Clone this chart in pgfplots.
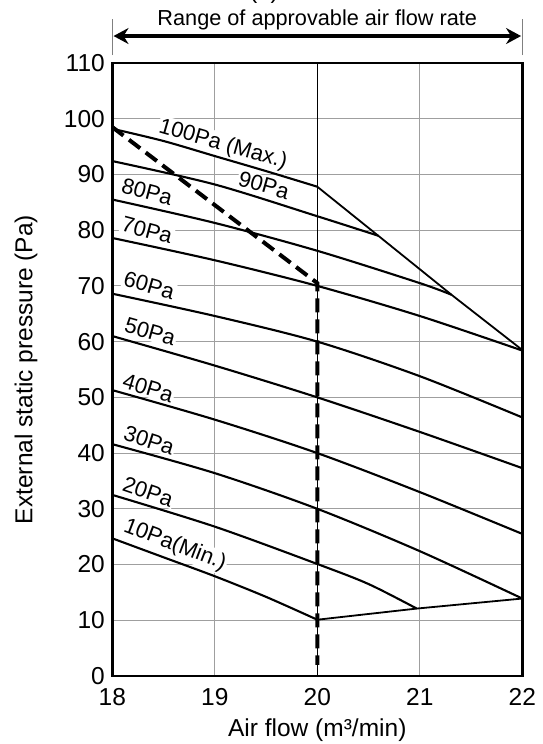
\documentclass[border=0pt]{standalone}
\usepackage{fontspec}
\setmainfont{Liberation Sans}
\usepackage{pgfplots}
\pgfplotsset{compat=1.18}
\usetikzlibrary{arrows.meta}
\tikzset{
  curve/.style={black, line width=2.1pt, smooth},
  lbl/.style={fill=white, inner sep=1.5pt, font=\fontsize{22}{22}\selectfont},
}

\begin{document}
\begin{tikzpicture}
\begin{axis}[
  scale only axis, width=410pt, height=613pt,
  xmin=18, xmax=22, ymin=0, ymax=110,
  xtick={18,19,20,21,22}, ytick={0,10,...,110},
  major tick length=0pt,
  grid=major,
  major grid style={line width=1pt, gray!75},
  axis line style={line width=2.6pt},
  clip=false,
  /pgf/number format/assume math mode=true,
  tick label style={font=\fontsize{24.5}{24.5}\selectfont},
  xticklabel style={yshift=-9pt},
  yticklabel style={xshift=-4pt},
  xlabel={Air flow (m³/min)},
  ylabel={External static pressure (Pa)},
  label style={font=\fontsize{24.5}{24.5}\selectfont},
  xlabel style={at={(axis description cs:0.5,-0.089)}, anchor=center},
  ylabel style={at={(axis description cs:-0.2105,0.5)}, anchor=center},
]
% darker grid line at 20
\addplot[black, line width=0.9pt, no marks] coordinates {(20,0) (20,110)};

% curve labels (white background interrupts grid)
\node[lbl, rotate=-16] at (axis cs:19.08,95.3) {100Pa (Max.)};
\node[lbl, rotate=-16] at (axis cs:19.48,88.1) {90Pa};
\node[lbl, rotate=-15] at (axis cs:18.34,86.9) {80Pa};
\node[lbl, rotate=-15] at (axis cs:18.34,80.0) {70Pa};
\node[lbl, rotate=-16] at (axis cs:18.36,70.1) {60Pa};
\node[lbl, rotate=-16] at (axis cs:18.37,61.8) {50Pa};
\node[lbl, rotate=-17] at (axis cs:18.35,51.7) {40Pa};
\node[lbl, rotate=-18] at (axis cs:18.36,42.3) {30Pa};
\node[lbl, rotate=-19] at (axis cs:18.35,33.1) {20Pa};
\node[lbl, rotate=-21] at (axis cs:18.61,23.5) {10Pa(Min.)};

% characteristic curves
\addplot[curve, no marks] coordinates {(18,98.2) (18.5,96.0) (19,93.3) (19.5,90.6) (20,87.8)};
\addplot[curve, no marks] coordinates {(18,92.4) (19,88.2) (20,82.5) (20.595,79.0)};
\addplot[curve, no marks] coordinates {(18,85.5) (19,81.3) (20,76.3) (21,70.5) (21.31,68.4)};
\addplot[curve, no marks] coordinates {(18,78.6) (19,74.6) (20,70.0) (21,64.6) (22,58.4)};
\addplot[curve, no marks] coordinates {(18,68.6) (19,64.6) (20,60.0) (21,53.8) (22,46.4)};
\addplot[curve, no marks] coordinates {(18,61.0) (19,55.7) (20,50.0) (21,43.8) (22,37.3)};
\addplot[curve, no marks] coordinates {(18,51.3) (19,46.0) (20,40.0) (21,33.0) (22,25.5)};
\addplot[curve, no marks] coordinates {(18,41.6) (19,36.4) (20,30.0) (21,22.4) (22,13.9)};
\addplot[curve, no marks] coordinates {(18,32.5) (19,26.8) (20,20.1) (20.5,16.5) (20.97,12.1)};
\addplot[curve, no marks] coordinates {(18,24.7) (18.5,21.3) (19,17.9) (19.5,14.2) (20,10.1)};
% max and min limit lines
\addplot[black, line width=1.8pt, no marks] coordinates {(20,87.8) (20.595,79.0) (21.31,68.4) (22,58.5)};
\addplot[black, line width=1.8pt, no marks] coordinates {(20,10.1) (20.97,12.1) (22,13.9)};
% dashed line
\addplot[black, line width=4pt, no marks, dash pattern=on 14pt off 7pt] coordinates {(18,98.5) (20,70.5) (20,2)};

% top annotation
\draw[line width=0.9pt, gray] (axis description cs:0,1.013) -- (axis description cs:0,1.072);
\draw[line width=0.9pt, gray] (axis description cs:1,1.013) -- (axis description cs:1,1.072);
\draw[line width=3.5pt, {Stealth[length=15pt,width=16pt,inset=5pt]}-{Stealth[length=15pt,width=16pt,inset=5pt]}]
  (axis description cs:0.003,1.044) -- (axis description cs:0.997,1.044);
\node[anchor=base, font=\fontsize{21.7}{21.7}\selectfont] at (axis description cs:0.5,1.0604) {Range of approvable air flow rate};
\node[anchor=base, font=\fontsize{24}{24}\selectfont] at (axis description cs:0.37,1.106) {(1)};
\end{axis}
\pgfresetboundingbox
\path ([shift={(-112.3pt,-68pt)}]current axis.south west) rectangle ++(542pt,744pt);
\end{tikzpicture}
\end{document}
